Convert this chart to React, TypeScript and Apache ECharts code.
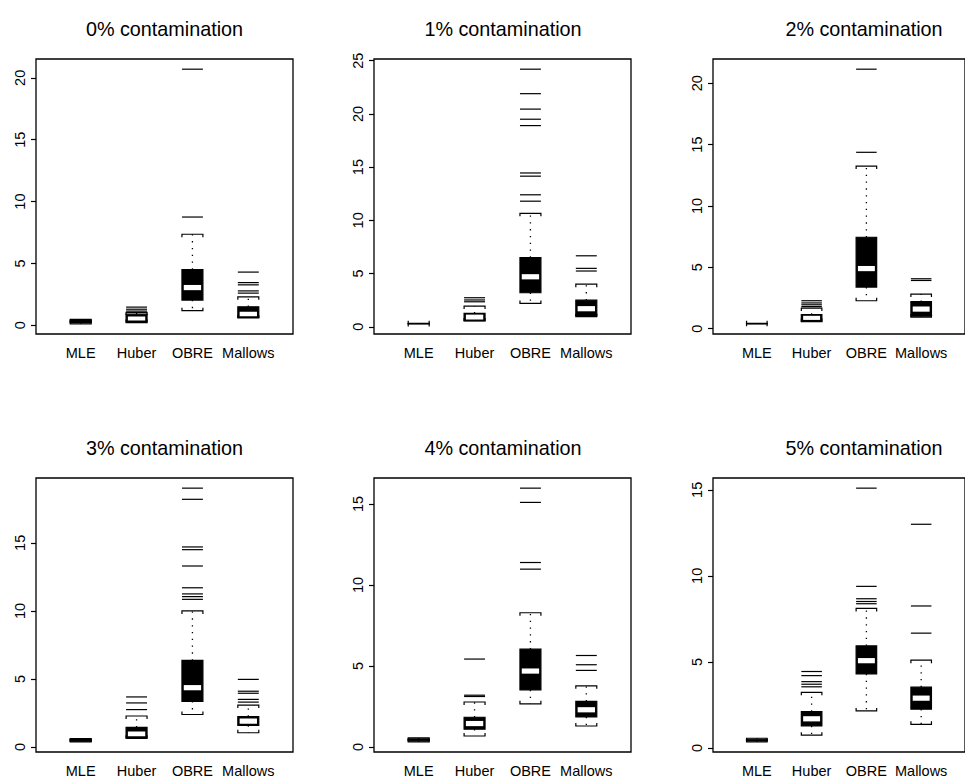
import React, { useEffect, useRef } from "react";
import * as echarts from "echarts";

const methods = ["MLE", "Huber", "OBRE", "Mallows"];
const titles = [
  "0% contamination",
  "1% contamination",
  "2% contamination",
  "3% contamination",
  "4% contamination",
  "5% contamination",
];

// per method: [lower whisker, Q1, median, Q3, upper whisker]
const stats0 = [[0.12, 0.22, 0.3, 0.4, 0.48], [0.22, 0.3, 0.5, 0.9, 1.05], [1.18, 2.04, 3.05, 4.5, 7.36], [0.6, 0.64, 0.88, 1.5, 2.3]];
const outliers0 = [[], [1.15, 1.3, 1.47], [8.75, 20.7], [2.6, 2.78, 3.27, 3.45, 4.3]];

const stats1 = [[0.28, 0.3, 0.3, 0.3, 0.32], [0.55, 0.57, 0.9, 1.26, 1.95], [2.2, 3.2, 4.7, 6.5, 10.66], [0.95, 1.05, 1.7, 2.5, 4.0]];
const outliers1 = [[], [2.35, 2.52, 2.73], [11.8, 12.4, 14.15, 14.45, 18.9, 19.5, 20.45, 21.9, 24.2], [5.24, 5.49, 6.67]];

const stats2 = [[0.4, 0.42, 0.42, 0.42, 0.44], [0.58, 0.62, 0.9, 1.15, 1.68], [2.28, 3.39, 4.9, 7.45, 13.25], [0.95, 1.02, 1.6, 2.2, 2.82]];
const outliers2 = [[], [1.8, 1.95, 2.1, 2.28], [14.37, 21.14], [3.93, 4.07]];

const stats3 = [[0.38, 0.43, 0.48, 0.55, 0.62], [0.64, 0.7, 0.95, 1.45, 2.28], [2.39, 3.36, 4.36, 6.36, 10.0], [1.05, 1.58, 1.9, 2.24, 3.08]];
const outliers3 = [[], [2.75, 3.24, 3.68], [10.85, 11.05, 11.25, 11.7, 13.3, 14.5, 14.7, 18.2, 19.02], [3.3, 3.5, 3.95, 4.1, 4.97]];

const stats4 = [[0.32, 0.38, 0.45, 0.5, 0.56], [0.68, 1.1, 1.45, 1.84, 2.78], [2.67, 3.53, 4.69, 6.04, 8.29], [1.3, 1.86, 2.3, 2.82, 3.78]];
const outliers4 = [[], [3.12, 3.2, 5.43], [10.98, 11.39, 15.1, 15.98], [4.73, 5.08, 5.65]];

const stats5 = [[0.35, 0.4, 0.45, 0.5, 0.56], [0.74, 1.28, 1.69, 2.11, 3.23], [2.15, 4.3, 5.07, 5.93, 8.11], [1.37, 2.25, 2.89, 3.53, 5.1]];
const outliers5 = [[], [3.55, 3.7, 3.85, 4.2, 4.44], [8.38, 8.51, 8.67, 9.39, 15.1], [6.67, 8.25, 13.0]];

const ticks0 = [0, 5, 10, 15, 20];
const ticks1 = [0, 5, 10, 15, 20, 25];
const ticks2 = [0, 5, 10, 15, 20];
const ticks3 = [0, 5, 10, 15];
const ticks4 = [0, 5, 10, 15];
const ticks5 = [0, 5, 10, 15];

const allStats = [stats0, stats1, stats2, stats3, stats4, stats5];
const allOutliers = [outliers0, outliers1, outliers2, outliers3, outliers4, outliers5];
const allTicks = [ticks0, ticks1, ticks2, ticks3, ticks4, ticks5];

// layout
const LEFTS = [36, 374, 713];
const TITLE_X = [164.5, 503, 864];
const TOPS = [59, 478];
const PW = 257;
const PH = 275;
const BOX_W = 0.375;
const FONT = "'Liberation Sans', Arial, Helvetica, sans-serif";

function renderBox(_params: any, api: any) {
  const x = api.value(0);
  const lo = api.value(1);
  const q1 = api.value(2);
  const md = api.value(3);
  const q3 = api.value(4);
  const hi = api.value(5);
  const xc = api.coord([x, md])[0];
  const yLo = api.coord([x, lo])[1];
  const yQ1 = api.coord([x, q1])[1];
  const yMd = api.coord([x, md])[1];
  const yQ3 = api.coord([x, q3])[1];
  const yHi = api.coord([x, hi])[1];
  const hw = api.size([BOX_W, 0])[0] / 2;
  const t = 3;
  const dotted = { stroke: "#000", lineWidth: 1.3, lineDash: [1.3, 5.5], fill: "none" };
  const solid = { stroke: "#000", lineWidth: 1.2, fill: "none" };
  const children: any[] = [
    { type: "line", shape: { x1: xc, y1: yQ3, x2: xc, y2: yHi }, style: dotted },
    { type: "line", shape: { x1: xc, y1: yQ1, x2: xc, y2: yLo }, style: dotted },
    {
      type: "polyline",
      shape: { points: [[xc - hw, yHi + t], [xc - hw, yHi], [xc + hw, yHi], [xc + hw, yHi + t]] },
      style: solid,
    },
    {
      type: "polyline",
      shape: { points: [[xc - hw, yLo - t], [xc - hw, yLo], [xc + hw, yLo], [xc + hw, yLo - t]] },
      style: solid,
    },
    {
      type: "rect",
      shape: { x: xc - hw, y: yQ3, width: 2 * hw, height: Math.max(0.01, yQ1 - yQ3) },
      style: { fill: "#000", stroke: "#000", lineWidth: 1.2 },
    },
  ];
  const top = Math.max(yMd - 2.6, yQ3 + 1.2);
  const bot = Math.min(yMd + 2.6, yQ1 - 1.2);
  if (bot - top > 0.6) {
    children.push({
      type: "rect",
      shape: { x: xc - hw + 1.8, y: top, width: 2 * hw - 3.6, height: bot - top },
      style: { fill: "#fff" },
    });
  }
  return { type: "group", children };
}

function renderOutlier(_params: any, api: any) {
  const p = api.coord([api.value(0), api.value(1)]);
  const hw = api.size([BOX_W, 0])[0] / 2;
  return {
    type: "line",
    shape: { x1: p[0] - hw, y1: p[1], x2: p[0] + hw, y2: p[1] },
    style: { stroke: "#000", lineWidth: 1.2 },
  };
}

function buildOption() {
  const grid: any[] = [];
  const xAxis: any[] = [];
  const yAxis: any[] = [];
  const series: any[] = [];
  const graphic: any[] = [];

  for (let i = 0; i < 6; i++) {
    const col = i % 3;
    const row = Math.floor(i / 3);
    const left = LEFTS[col];
    const top = TOPS[row];
    grid.push({
      left,
      top,
      width: PW,
      height: PH,
      show: true,
      borderColor: "#000",
      borderWidth: 1.3,
      backgroundColor: "transparent",
      containLabel: false,
    });

    const st = allStats[i];
    const out = allOutliers[i];
    let lo = Infinity;
    let hi = -Infinity;
    st.forEach((s) => {
      lo = Math.min(lo, s[0]);
      hi = Math.max(hi, s[4]);
    });
    out.forEach((arr) => arr.forEach((v) => {
      lo = Math.min(lo, v);
      hi = Math.max(hi, v);
    }));
    const pad = (hi - lo) * 0.04;

    xAxis.push({
      type: "value",
      gridIndex: i,
      min: 0.2,
      max: 4.8,
      splitLine: { show: false },
      axisLine: { show: false },
      axisTick: { show: false },
      axisLabel: {
        customValues: [1, 2, 3, 4],
        formatter: (v: number) => methods[Math.round(v) - 1] || "",
        color: "#000",
        fontSize: 14.5,
        fontFamily: FONT,
        margin: 11,
      },
    });
    const ticks = allTicks[i];
    yAxis.push({
      type: "value",
      gridIndex: i,
      min: lo - pad,
      max: hi + pad,
      splitLine: { show: false },
      axisLine: { show: false },
      axisTick: {
        show: true,
        customValues: ticks,
        length: 5,
        lineStyle: { color: "#000", width: 1.2 },
      },
      axisLabel: {
        customValues: ticks,
        rotate: 90,
        color: "#000",
        fontSize: 14.5,
        fontFamily: FONT,
        margin: 9,
      },
    });

    series.push({
      type: "custom",
      xAxisIndex: i,
      yAxisIndex: i,
      renderItem: renderBox,
      data: st.map((s, k) => [k + 1, s[0], s[1], s[2], s[3], s[4]]),
      silent: true,
    });
    const od: number[][] = [];
    out.forEach((arr, k) => arr.forEach((v) => od.push([k + 1, v])));
    series.push({
      type: "custom",
      xAxisIndex: i,
      yAxisIndex: i,
      renderItem: renderOutlier,
      data: od,
      silent: true,
    });

    graphic.push({
      type: "text",
      x: TITLE_X[col],
      y: top - 30,
      style: {
        text: titles[i],
        fill: "#000",
        fontSize: 19.8,
        fontFamily: FONT,
        textAlign: "center",
        textVerticalAlign: "middle",
      },
    });
  }

  return {
    animation: false,
    backgroundColor: "#fff",
    grid,
    xAxis,
    yAxis,
    series,
    graphic,
  };
}

export default function App() {
  const ref = useRef<HTMLDivElement>(null);
  useEffect(() => {
    if (!ref.current) return;
    const chart = echarts.init(ref.current, undefined, { renderer: "svg" });
    chart.setOption(buildOption() as any);
    return () => chart.dispose();
  }, []);
  return (
    <div
      ref={ref}
      style={{ position: "fixed", left: 0, top: 0, width: 965, height: 778, background: "#fff" }}
    />
  );
}
